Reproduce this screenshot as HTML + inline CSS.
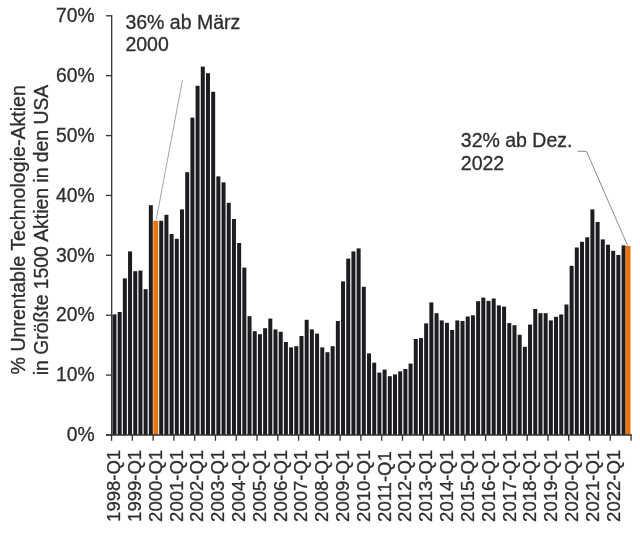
<!DOCTYPE html>
<html lang="de"><head><meta charset="utf-8"><title>Unrentable Technologie-Aktien</title>
<style>html,body{margin:0;padding:0;background:#fff;}svg{display:block;}text{font-family:"Liberation Sans",sans-serif;font-size:19px;fill:#2e2e32;stroke:#2e2e32;stroke-width:0.3px;}</style></head><body>
<svg width="640" height="549" viewBox="0 0 640 549">
<rect width="640" height="549" fill="#fff"/>
<g shape-rendering="auto">
<rect x="112.46" y="314.40" width="4.00" height="120.60" fill="#1c1c21"/>
<rect x="117.66" y="312.00" width="4.00" height="123.00" fill="#1c1c21"/>
<rect x="122.85" y="278.40" width="4.00" height="156.60" fill="#1c1c21"/>
<rect x="128.05" y="251.40" width="4.00" height="183.60" fill="#1c1c21"/>
<rect x="133.24" y="271.20" width="4.00" height="163.80" fill="#1c1c21"/>
<rect x="138.44" y="270.60" width="4.00" height="164.40" fill="#1c1c21"/>
<rect x="143.63" y="289.20" width="4.00" height="145.80" fill="#1c1c21"/>
<rect x="148.83" y="205.20" width="4.00" height="229.80" fill="#1c1c21"/>
<rect x="153.37" y="220.80" width="4.80" height="214.20" fill="#e9730c"/>
<rect x="159.22" y="220.80" width="4.00" height="214.20" fill="#1c1c21"/>
<rect x="164.41" y="214.80" width="4.00" height="220.20" fill="#1c1c21"/>
<rect x="169.61" y="234.00" width="4.00" height="201.00" fill="#1c1c21"/>
<rect x="174.80" y="238.80" width="4.00" height="196.20" fill="#1c1c21"/>
<rect x="180.00" y="209.40" width="4.00" height="225.60" fill="#1c1c21"/>
<rect x="185.19" y="172.20" width="4.00" height="262.80" fill="#1c1c21"/>
<rect x="190.39" y="117.60" width="4.00" height="317.40" fill="#1c1c21"/>
<rect x="195.58" y="85.80" width="4.00" height="349.20" fill="#1c1c21"/>
<rect x="200.78" y="66.60" width="4.00" height="368.40" fill="#1c1c21"/>
<rect x="205.97" y="73.20" width="4.00" height="361.80" fill="#1c1c21"/>
<rect x="211.17" y="91.80" width="4.00" height="343.20" fill="#1c1c21"/>
<rect x="216.36" y="176.40" width="4.00" height="258.60" fill="#1c1c21"/>
<rect x="221.56" y="182.40" width="4.00" height="252.60" fill="#1c1c21"/>
<rect x="226.75" y="202.80" width="4.00" height="232.20" fill="#1c1c21"/>
<rect x="231.95" y="219.00" width="4.00" height="216.00" fill="#1c1c21"/>
<rect x="237.14" y="243.00" width="4.00" height="192.00" fill="#1c1c21"/>
<rect x="242.34" y="267.60" width="4.00" height="167.40" fill="#1c1c21"/>
<rect x="247.53" y="316.20" width="4.00" height="118.80" fill="#1c1c21"/>
<rect x="252.73" y="331.20" width="4.00" height="103.80" fill="#1c1c21"/>
<rect x="257.92" y="334.20" width="4.00" height="100.80" fill="#1c1c21"/>
<rect x="263.12" y="328.20" width="4.00" height="106.80" fill="#1c1c21"/>
<rect x="268.31" y="318.60" width="4.00" height="116.40" fill="#1c1c21"/>
<rect x="273.50" y="329.40" width="4.00" height="105.60" fill="#1c1c21"/>
<rect x="278.70" y="331.80" width="4.00" height="103.20" fill="#1c1c21"/>
<rect x="283.89" y="342.00" width="4.00" height="93.00" fill="#1c1c21"/>
<rect x="289.09" y="347.40" width="4.00" height="87.60" fill="#1c1c21"/>
<rect x="294.28" y="346.20" width="4.00" height="88.80" fill="#1c1c21"/>
<rect x="299.48" y="336.00" width="4.00" height="99.00" fill="#1c1c21"/>
<rect x="304.67" y="319.80" width="4.00" height="115.20" fill="#1c1c21"/>
<rect x="309.87" y="329.40" width="4.00" height="105.60" fill="#1c1c21"/>
<rect x="315.06" y="333.60" width="4.00" height="101.40" fill="#1c1c21"/>
<rect x="320.26" y="347.40" width="4.00" height="87.60" fill="#1c1c21"/>
<rect x="325.45" y="352.20" width="4.00" height="82.80" fill="#1c1c21"/>
<rect x="330.65" y="346.20" width="4.00" height="88.80" fill="#1c1c21"/>
<rect x="335.85" y="321.00" width="4.00" height="114.00" fill="#1c1c21"/>
<rect x="341.04" y="281.40" width="4.00" height="153.60" fill="#1c1c21"/>
<rect x="346.24" y="258.60" width="4.00" height="176.40" fill="#1c1c21"/>
<rect x="351.43" y="251.40" width="4.00" height="183.60" fill="#1c1c21"/>
<rect x="356.62" y="248.40" width="4.00" height="186.60" fill="#1c1c21"/>
<rect x="361.82" y="286.80" width="4.00" height="148.20" fill="#1c1c21"/>
<rect x="367.01" y="353.40" width="4.00" height="81.60" fill="#1c1c21"/>
<rect x="372.21" y="362.70" width="4.00" height="72.30" fill="#1c1c21"/>
<rect x="377.40" y="372.60" width="4.00" height="62.40" fill="#1c1c21"/>
<rect x="382.60" y="369.60" width="4.00" height="65.40" fill="#1c1c21"/>
<rect x="387.80" y="376.20" width="4.00" height="58.80" fill="#1c1c21"/>
<rect x="392.99" y="374.40" width="4.00" height="60.60" fill="#1c1c21"/>
<rect x="398.19" y="371.40" width="4.00" height="63.60" fill="#1c1c21"/>
<rect x="403.38" y="369.00" width="4.00" height="66.00" fill="#1c1c21"/>
<rect x="408.57" y="363.60" width="4.00" height="71.40" fill="#1c1c21"/>
<rect x="413.77" y="339.00" width="4.00" height="96.00" fill="#1c1c21"/>
<rect x="418.96" y="338.10" width="4.00" height="96.90" fill="#1c1c21"/>
<rect x="424.16" y="323.40" width="4.00" height="111.60" fill="#1c1c21"/>
<rect x="429.36" y="302.40" width="4.00" height="132.60" fill="#1c1c21"/>
<rect x="434.55" y="313.20" width="4.00" height="121.80" fill="#1c1c21"/>
<rect x="439.75" y="320.40" width="4.00" height="114.60" fill="#1c1c21"/>
<rect x="444.94" y="322.80" width="4.00" height="112.20" fill="#1c1c21"/>
<rect x="450.13" y="330.00" width="4.00" height="105.00" fill="#1c1c21"/>
<rect x="455.33" y="320.40" width="4.00" height="114.60" fill="#1c1c21"/>
<rect x="460.52" y="321.00" width="4.00" height="114.00" fill="#1c1c21"/>
<rect x="465.72" y="316.50" width="4.00" height="118.50" fill="#1c1c21"/>
<rect x="470.92" y="315.30" width="4.00" height="119.70" fill="#1c1c21"/>
<rect x="476.11" y="301.20" width="4.00" height="133.80" fill="#1c1c21"/>
<rect x="481.31" y="297.60" width="4.00" height="137.40" fill="#1c1c21"/>
<rect x="486.50" y="300.90" width="4.00" height="134.10" fill="#1c1c21"/>
<rect x="491.69" y="298.50" width="4.00" height="136.50" fill="#1c1c21"/>
<rect x="496.89" y="305.40" width="4.00" height="129.60" fill="#1c1c21"/>
<rect x="502.08" y="306.60" width="4.00" height="128.40" fill="#1c1c21"/>
<rect x="507.28" y="323.10" width="4.00" height="111.90" fill="#1c1c21"/>
<rect x="512.48" y="325.20" width="4.00" height="109.80" fill="#1c1c21"/>
<rect x="517.67" y="334.80" width="4.00" height="100.20" fill="#1c1c21"/>
<rect x="522.87" y="346.80" width="4.00" height="88.20" fill="#1c1c21"/>
<rect x="528.06" y="324.60" width="4.00" height="110.40" fill="#1c1c21"/>
<rect x="533.25" y="309.00" width="4.00" height="126.00" fill="#1c1c21"/>
<rect x="538.45" y="313.20" width="4.00" height="121.80" fill="#1c1c21"/>
<rect x="543.64" y="313.20" width="4.00" height="121.80" fill="#1c1c21"/>
<rect x="548.84" y="320.40" width="4.00" height="114.60" fill="#1c1c21"/>
<rect x="554.03" y="316.80" width="4.00" height="118.20" fill="#1c1c21"/>
<rect x="559.23" y="314.40" width="4.00" height="120.60" fill="#1c1c21"/>
<rect x="564.43" y="304.50" width="4.00" height="130.50" fill="#1c1c21"/>
<rect x="569.62" y="265.80" width="4.00" height="169.20" fill="#1c1c21"/>
<rect x="574.81" y="247.50" width="4.00" height="187.50" fill="#1c1c21"/>
<rect x="580.01" y="241.80" width="4.00" height="193.20" fill="#1c1c21"/>
<rect x="585.21" y="237.30" width="4.00" height="197.70" fill="#1c1c21"/>
<rect x="590.40" y="209.40" width="4.00" height="225.60" fill="#1c1c21"/>
<rect x="595.60" y="222.00" width="4.00" height="213.00" fill="#1c1c21"/>
<rect x="600.79" y="239.40" width="4.00" height="195.60" fill="#1c1c21"/>
<rect x="605.99" y="244.80" width="4.00" height="190.20" fill="#1c1c21"/>
<rect x="611.18" y="250.80" width="4.00" height="184.20" fill="#1c1c21"/>
<rect x="616.38" y="255.00" width="4.00" height="180.00" fill="#1c1c21"/>
<rect x="621.57" y="245.40" width="4.00" height="189.60" fill="#1c1c21"/>
<rect x="625.55" y="246.00" width="5.00" height="189.00" fill="#e9730c"/>
</g>
<g stroke="#333337" stroke-width="1.3" fill="none">
<path d="M111.7 15.1 V435.6"/>
<path d="M106 435 H631.9"/>
<path d="M106 435.0 H112"/>
<path d="M106 375.1 H112"/>
<path d="M106 315.2 H112"/>
<path d="M106 255.3 H112"/>
<path d="M106 195.4 H112"/>
<path d="M106 135.6 H112"/>
<path d="M106 75.7 H112"/>
<path d="M106 15.8 H112"/>
<path d="M111.56 435 V440.8"/>
<path d="M132.34 435 V440.8"/>
<path d="M153.12 435 V440.8"/>
<path d="M173.90 435 V440.8"/>
<path d="M194.68 435 V440.8"/>
<path d="M215.46 435 V440.8"/>
<path d="M236.24 435 V440.8"/>
<path d="M257.02 435 V440.8"/>
<path d="M277.80 435 V440.8"/>
<path d="M298.58 435 V440.8"/>
<path d="M319.36 435 V440.8"/>
<path d="M340.14 435 V440.8"/>
<path d="M360.92 435 V440.8"/>
<path d="M381.70 435 V440.8"/>
<path d="M402.48 435 V440.8"/>
<path d="M423.26 435 V440.8"/>
<path d="M444.04 435 V440.8"/>
<path d="M464.82 435 V440.8"/>
<path d="M485.60 435 V440.8"/>
<path d="M506.38 435 V440.8"/>
<path d="M527.16 435 V440.8"/>
<path d="M547.94 435 V440.8"/>
<path d="M568.72 435 V440.8"/>
<path d="M589.50 435 V440.8"/>
<path d="M610.28 435 V440.8"/>
<path d="M631.06 435 V440.8"/>
</g>
<text x="94.6" y="441.2" text-anchor="end" style="font-size:19.3px">0%</text>
<text x="94.6" y="381.3" text-anchor="end" style="font-size:19.3px">10%</text>
<text x="94.6" y="321.4" text-anchor="end" style="font-size:19.3px">20%</text>
<text x="94.6" y="261.5" text-anchor="end" style="font-size:19.3px">30%</text>
<text x="94.6" y="201.6" text-anchor="end" style="font-size:19.3px">40%</text>
<text x="94.6" y="141.8" text-anchor="end" style="font-size:19.3px">50%</text>
<text x="94.6" y="81.9" text-anchor="end" style="font-size:19.3px">60%</text>
<text x="94.6" y="22.0" text-anchor="end" style="font-size:19.3px">70%</text>
<text transform="translate(120.05,521.9) rotate(-90) scale(0.985,1)" style="font-size:18.8px">1998-Q1</text>
<text transform="translate(140.87,521.9) rotate(-90) scale(0.985,1)" style="font-size:18.8px">1999-Q1</text>
<text transform="translate(161.68,521.9) rotate(-90) scale(0.985,1)" style="font-size:18.8px">2000-Q1</text>
<text transform="translate(182.50,521.9) rotate(-90) scale(0.985,1)" style="font-size:18.8px">2001-Q1</text>
<text transform="translate(203.31,521.9) rotate(-90) scale(0.985,1)" style="font-size:18.8px">2002-Q1</text>
<text transform="translate(224.12,521.9) rotate(-90) scale(0.985,1)" style="font-size:18.8px">2003-Q1</text>
<text transform="translate(244.94,521.9) rotate(-90) scale(0.985,1)" style="font-size:18.8px">2004-Q1</text>
<text transform="translate(265.75,521.9) rotate(-90) scale(0.985,1)" style="font-size:18.8px">2005-Q1</text>
<text transform="translate(286.57,521.9) rotate(-90) scale(0.985,1)" style="font-size:18.8px">2006-Q1</text>
<text transform="translate(307.38,521.9) rotate(-90) scale(0.985,1)" style="font-size:18.8px">2007-Q1</text>
<text transform="translate(328.20,521.9) rotate(-90) scale(0.985,1)" style="font-size:18.8px">2008-Q1</text>
<text transform="translate(349.01,521.9) rotate(-90) scale(0.985,1)" style="font-size:18.8px">2009-Q1</text>
<text transform="translate(369.83,521.9) rotate(-90) scale(0.985,1)" style="font-size:18.8px">2010-Q1</text>
<text transform="translate(390.65,521.9) rotate(-90) scale(0.985,1)" style="font-size:18.8px">2011-Q1</text>
<text transform="translate(411.46,521.9) rotate(-90) scale(0.985,1)" style="font-size:18.8px">2012-Q1</text>
<text transform="translate(432.28,521.9) rotate(-90) scale(0.985,1)" style="font-size:18.8px">2013-Q1</text>
<text transform="translate(453.09,521.9) rotate(-90) scale(0.985,1)" style="font-size:18.8px">2014-Q1</text>
<text transform="translate(473.91,521.9) rotate(-90) scale(0.985,1)" style="font-size:18.8px">2015-Q1</text>
<text transform="translate(494.72,521.9) rotate(-90) scale(0.985,1)" style="font-size:18.8px">2016-Q1</text>
<text transform="translate(515.53,521.9) rotate(-90) scale(0.985,1)" style="font-size:18.8px">2017-Q1</text>
<text transform="translate(536.35,521.9) rotate(-90) scale(0.985,1)" style="font-size:18.8px">2018-Q1</text>
<text transform="translate(557.16,521.9) rotate(-90) scale(0.985,1)" style="font-size:18.8px">2019-Q1</text>
<text transform="translate(577.98,521.9) rotate(-90) scale(0.985,1)" style="font-size:18.8px">2020-Q1</text>
<text transform="translate(598.79,521.9) rotate(-90) scale(0.985,1)" style="font-size:18.8px">2021-Q1</text>
<text transform="translate(619.61,521.9) rotate(-90) scale(0.985,1)" style="font-size:18.8px">2022-Q1</text>
<text transform="translate(25.2,229.8) rotate(-90)" text-anchor="middle" style="font-size:19.6px">% Unrentable Technologie-Aktien</text>
<text transform="translate(47.9,230) rotate(-90) scale(0.988,1)" text-anchor="middle" style="font-size:19.6px">in Größte 1500 Aktien in den USA</text>
<text x="125.4" y="28.7" style="font-size:19.5px">36% ab März</text>
<text x="125.4" y="51.1" style="font-size:19.5px">2000</text>
<text x="460.8" y="147.1" style="font-size:19.5px">32% ab Dez.</text>
<text x="460.8" y="169.7" style="font-size:19.5px">2022</text>
<g stroke="#8a8a96" stroke-width="1" fill="none">
<path d="M182.5 80 L156.3 219.5" stroke="#a2a2ac"/>
<path d="M577.5 151.3 H586.5 L627.6 245.6"/>
</g>
</svg></body></html>
